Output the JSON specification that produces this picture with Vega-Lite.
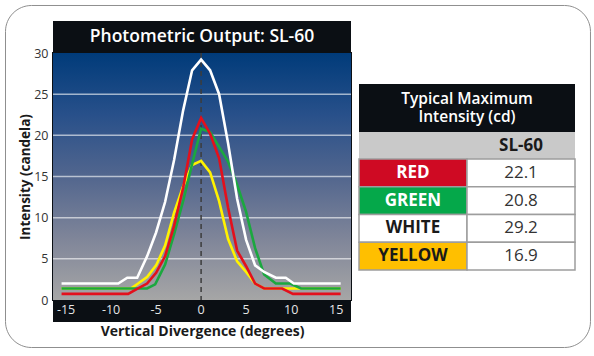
{
  "$schema": "https://vega.github.io/schema/vega-lite/v6.json",
  "background": "white",
  "padding": {"left": 4, "top": 3, "right": 4, "bottom": 4},
  "config": {"font": "Open Sans", "view": {"stroke": null}},
  "spacing": 306,
  "bounds": "flush",
  "hconcat": [
    {
      "spacing": 0,
      "bounds": "flush",
      "vconcat": [
        {
          "width": 298,
          "height": 32,
          "view": {"fill": "#0b0f14", "stroke": null},
          "data": {"values": [{"label": "Photometric Output: SL-60"}]},
          "mark": {"type": "text", "color": "#ffffff", "fontSize": 17.5, "fontWeight": 600, "baseline": "middle", "align": "center"},
          "encoding": {"text": {"field": "label", "type": "nominal"}}
        },
        {
          "width": 298,
          "height": 247,
          "view": {"stroke": "#0b0f14", "strokeWidth": 2},
          "layer": [
            {
              "data": {"values": [{}]},
              "mark": {"type": "rect", "filled": false, "stroke": "#8f8f8f", "strokeWidth": 1, "cornerRadius": 26},
              "encoding": {
                "x": {"datum": -21.726, "type": "quantitative", "scale": {"domain": [-16.45, 16.65]}, "axis": null},
                "x2": {"datum": 43.25},
                "y": {
                  "datum": 35.77, "type": "quantitative", "scale": {"domain": [0, 30]},
                  "axis": {
                    "title": "Intensity (candela)",
                    "values": [0, 5, 10, 15, 20, 25, 30],
                    "grid": false, "ticks": false, "tickSize": 0, "domain": false,
                    "labelPadding": 5, "labelFontSize": 12.5, "labelColor": "#333333", "labelFlush": false,
                    "titleFontSize": 13.5, "titleFontWeight": "bold", "titleColor": "#1a1a1a", "titlePadding": 1,
                    "minExtent": 0
                  }
                },
                "y2": {"datum": -5.77}
              }
            },
            {
              "data": {"values": [{}]},
              "mark": {
                "type": "rect",
                "color": {
                  "gradient": "linear",
                  "x1": 0, "y1": 0, "x2": 0, "y2": 1,
                  "stops": [
                    {"offset": 0, "color": "#003b7a"},
                    {"offset": 0.25, "color": "#28508a"},
                    {"offset": 0.5, "color": "#52668e"},
                    {"offset": 0.75, "color": "#7f8599"},
                    {"offset": 1, "color": "#a6a6a6"}
                  ]
                }
              },
              "encoding": {}
            },
            {
              "data": {"values": [{"v": 5}, {"v": 10}, {"v": 15}, {"v": 20}, {"v": 25}]},
              "mark": {"type": "rule", "color": "#ffffff", "opacity": 0.6, "strokeWidth": 1.5},
              "encoding": {
                "y": {
                  "field": "v", "type": "quantitative", "scale": {"domain": [0, 30]},
                  "axis": {
                    "title": "Intensity (candela)",
                    "values": [0, 5, 10, 15, 20, 25, 30],
                    "grid": false, "ticks": false, "tickSize": 0, "domain": false,
                    "labelPadding": 5, "labelFontSize": 12.5, "labelColor": "#333333", "labelFlush": false,
                    "titleFontSize": 13.5, "titleFontWeight": "bold", "titleColor": "#1a1a1a", "titlePadding": 1,
                    "minExtent": 0
                  }
                }
              }
            },
            {
              "data": {"values": [{"v": 0}]},
              "mark": {"type": "rule", "color": "#3c3c3c", "strokeDash": [5, 4], "strokeWidth": 1.5},
              "encoding": {
                "x": {"field": "v", "type": "quantitative", "scale": {"domain": [-16.45, 16.65]}, "axis": null}
              }
            },
            {
              "data": {
                "values": [
                  {"series": "White", "deg": -15.5, "cd": 2.0},
                  {"series": "White", "deg": -9.2, "cd": 2.0},
                  {"series": "White", "deg": -8.2, "cd": 2.7},
                  {"series": "White", "deg": -7.1, "cd": 2.7},
                  {"series": "White", "deg": -6, "cd": 5.3},
                  {"series": "White", "deg": -5, "cd": 8.2},
                  {"series": "White", "deg": -4, "cd": 11.9},
                  {"series": "White", "deg": -3, "cd": 17.0},
                  {"series": "White", "deg": -2, "cd": 23.0},
                  {"series": "White", "deg": -1, "cd": 27.9},
                  {"series": "White", "deg": 0, "cd": 29.2},
                  {"series": "White", "deg": 1, "cd": 27.9},
                  {"series": "White", "deg": 2, "cd": 25.0},
                  {"series": "White", "deg": 3, "cd": 19.0},
                  {"series": "White", "deg": 4, "cd": 12.3},
                  {"series": "White", "deg": 5, "cd": 7.3},
                  {"series": "White", "deg": 6, "cd": 4.2},
                  {"series": "White", "deg": 7, "cd": 3.4},
                  {"series": "White", "deg": 8.3, "cd": 2.7},
                  {"series": "White", "deg": 9.4, "cd": 2.7},
                  {"series": "White", "deg": 10.3, "cd": 2.0},
                  {"series": "White", "deg": 15.5, "cd": 2.0},
                  {"series": "Green", "deg": -15.5, "cd": 1.4},
                  {"series": "Green", "deg": -6.0, "cd": 1.4},
                  {"series": "Green", "deg": -5.1, "cd": 1.9},
                  {"series": "Green", "deg": -4, "cd": 4.3},
                  {"series": "Green", "deg": -3, "cd": 8.0},
                  {"series": "Green", "deg": -2, "cd": 12.0},
                  {"series": "Green", "deg": -1, "cd": 16.5},
                  {"series": "Green", "deg": 0, "cd": 20.8},
                  {"series": "Green", "deg": 1, "cd": 20.4},
                  {"series": "Green", "deg": 2, "cd": 18.6},
                  {"series": "Green", "deg": 3, "cd": 16.8},
                  {"series": "Green", "deg": 4, "cd": 14.0},
                  {"series": "Green", "deg": 5, "cd": 10.7},
                  {"series": "Green", "deg": 6, "cd": 6.3},
                  {"series": "Green", "deg": 7, "cd": 3.1},
                  {"series": "Green", "deg": 8.3, "cd": 2.0},
                  {"series": "Green", "deg": 9.9, "cd": 2.0},
                  {"series": "Green", "deg": 11.1, "cd": 1.4},
                  {"series": "Green", "deg": 15.5, "cd": 1.4},
                  {"series": "Red", "deg": -15.5, "cd": 0.75},
                  {"series": "Red", "deg": -8.1, "cd": 0.75},
                  {"series": "Red", "deg": -7, "cd": 1.4},
                  {"series": "Red", "deg": -6, "cd": 2.0},
                  {"series": "Red", "deg": -5, "cd": 3.3},
                  {"series": "Red", "deg": -4, "cd": 5.3},
                  {"series": "Red", "deg": -3, "cd": 9.0},
                  {"series": "Red", "deg": -2, "cd": 13.6},
                  {"series": "Red", "deg": -1, "cd": 19.5},
                  {"series": "Red", "deg": 0, "cd": 22.1},
                  {"series": "Red", "deg": 1, "cd": 20.2},
                  {"series": "Red", "deg": 2, "cd": 17.2},
                  {"series": "Red", "deg": 3, "cd": 11.2},
                  {"series": "Red", "deg": 4, "cd": 6.0},
                  {"series": "Red", "deg": 5, "cd": 4.1},
                  {"series": "Red", "deg": 6, "cd": 2.0},
                  {"series": "Red", "deg": 7, "cd": 1.4},
                  {"series": "Red", "deg": 9, "cd": 1.4},
                  {"series": "Red", "deg": 10.2, "cd": 0.75},
                  {"series": "Red", "deg": 15.5, "cd": 0.75},
                  {"series": "Yellow", "deg": -15.5, "cd": 1.4},
                  {"series": "Yellow", "deg": -7.8, "cd": 1.4},
                  {"series": "Yellow", "deg": -7, "cd": 2.0},
                  {"series": "Yellow", "deg": -6, "cd": 2.8},
                  {"series": "Yellow", "deg": -5, "cd": 4.2},
                  {"series": "Yellow", "deg": -4, "cd": 6.6},
                  {"series": "Yellow", "deg": -3, "cd": 10.6},
                  {"series": "Yellow", "deg": -2, "cd": 13.8},
                  {"series": "Yellow", "deg": -1, "cd": 16.4},
                  {"series": "Yellow", "deg": 0, "cd": 16.9},
                  {"series": "Yellow", "deg": 1, "cd": 15.5},
                  {"series": "Yellow", "deg": 2, "cd": 12.0},
                  {"series": "Yellow", "deg": 3, "cd": 7.4},
                  {"series": "Yellow", "deg": 4, "cd": 4.7},
                  {"series": "Yellow", "deg": 5, "cd": 3.4},
                  {"series": "Yellow", "deg": 6, "cd": 2.0},
                  {"series": "Yellow", "deg": 7, "cd": 1.4},
                  {"series": "Yellow", "deg": 15.5, "cd": 1.4}
                ]
              },
              "encoding": {
                "x": {"field": "deg", "type": "quantitative", "scale": {"domain": [-16.45, 16.65]}, "axis": null},
                "y": {
                  "field": "cd", "type": "quantitative", "scale": {"domain": [0, 30]},
                  "axis": {
                    "title": "Intensity (candela)",
                    "values": [0, 5, 10, 15, 20, 25, 30],
                    "grid": false, "ticks": false, "tickSize": 0, "domain": false,
                    "labelPadding": 5, "labelFontSize": 12.5, "labelColor": "#333333", "labelFlush": false,
                    "titleFontSize": 13.5, "titleFontWeight": "bold", "titleColor": "#1a1a1a", "titlePadding": 1,
                    "minExtent": 0
                  }
                },
                "color": {
                  "field": "series", "type": "nominal",
                  "scale": {"domain": ["Yellow", "Green", "Red", "White"], "range": ["#fff200", "#1ba83f", "#e3101c", "#ffffff"]},
                  "legend": null
                }
              },
              "layer": [
                {"transform": [{"filter": "datum.series === 'Yellow'"}], "mark": {"type": "line", "strokeWidth": 2.6}},
                {"transform": [{"filter": "datum.series === 'Green'"}], "mark": {"type": "line", "strokeWidth": 2.6}},
                {"transform": [{"filter": "datum.series === 'Red'"}], "mark": {"type": "line", "strokeWidth": 2.6}},
                {"transform": [{"filter": "datum.series === 'White'"}], "mark": {"type": "line", "strokeWidth": 2.6}}
              ]
            }
          ]
        },
        {
          "width": 298,
          "height": 22,
          "view": {"fill": "#0b0f14", "stroke": null},
          "data": {"values": [{"t": -15}, {"t": -10}, {"t": -5}, {"t": 0}, {"t": 5}, {"t": 10}, {"t": 15}]},
          "mark": {"type": "text", "color": "#e6e6e6", "fontSize": 12.5, "baseline": "middle", "dy": -1},
          "encoding": {
            "x": {
              "field": "t", "type": "quantitative", "scale": {"domain": [-16.45, 16.65]},
              "axis": {
                "title": "Vertical Divergence (degrees)", "labels": false, "ticks": false, "domain": false, "grid": false,
                "titleFontSize": 14, "titleFontWeight": "bold", "titleColor": "#1a1a1a", "titlePadding": 2
              }
            },
            "text": {"field": "t", "type": "nominal"}
          }
        }
      ]
    },
    {
      "spacing": 0,
      "bounds": "flush",
      "vconcat": [
        {
          "width": 216,
          "height": 62.7,
          "data": {"values": []},
          "mark": "rect",
          "encoding": {}
        },
        {
          "width": 216,
          "height": 48,
          "view": {"fill": "#0b0f14", "stroke": null},
          "data": {"values": [{"label": "Typical Maximum\nIntensity (cd)"}]},
          "mark": {"type": "text", "color": "#ffffff", "fontSize": 15.5, "fontWeight": 600, "lineBreak": "\n", "lineHeight": 17.5, "baseline": "middle", "align": "center", "dy": -8.75},
          "encoding": {"text": {"field": "label", "type": "nominal"}}
        },
        {
          "width": 216,
          "height": 27,
          "view": {"fill": "#c9c9c9", "stroke": null},
          "data": {"values": [{"col": "value", "label": "SL-60"}]},
          "mark": {"type": "text", "color": "#1a1a1a", "fontSize": 17, "fontWeight": "bold", "baseline": "middle"},
          "encoding": {
            "x": {"field": "col", "type": "nominal", "scale": {"type": "band", "domain": ["label", "value"], "paddingInner": 0, "paddingOuter": 0}, "axis": null},
            "text": {"field": "label", "type": "nominal"}
          }
        },
        {
          "width": 216,
          "height": 111,
          "view": {"stroke": null},
          "data": {
            "values": [
              {"name": "RED", "cd": 22.1},
              {"name": "GREEN", "cd": 20.8},
              {"name": "WHITE", "cd": 29.2},
              {"name": "YELLOW", "cd": 16.9}
            ]
          },
          "encoding": {
            "y": {"field": "name", "type": "nominal", "sort": null, "scale": {"type": "band", "paddingInner": 0, "paddingOuter": 0}, "axis": null}
          },
          "layer": [
            {
              "mark": {"type": "rect", "stroke": "#9d9d9d", "strokeWidth": 1.5},
              "encoding": {
                "x": {"datum": "label", "type": "nominal", "scale": {"type": "band", "domain": ["label", "value"], "paddingInner": 0, "paddingOuter": 0}, "axis": null},
                "color": {
                  "field": "name", "type": "nominal",
                  "scale": {"domain": ["RED", "GREEN", "WHITE", "YELLOW"], "range": ["#cf0a23", "#05a84a", "#ffffff", "#ffbf00"]},
                  "legend": null
                }
              }
            },
            {
              "mark": {"type": "rect", "fill": "#ffffff", "stroke": "#9d9d9d", "strokeWidth": 1.5},
              "encoding": {
                "x": {"datum": "value", "type": "nominal", "scale": {"type": "band", "domain": ["label", "value"], "paddingInner": 0, "paddingOuter": 0}, "axis": null}
              }
            },
            {
              "mark": {"type": "text", "fontSize": 17, "fontWeight": "bold", "baseline": "middle"},
              "encoding": {
                "x": {"datum": "label", "type": "nominal", "scale": {"type": "band", "domain": ["label", "value"], "paddingInner": 0, "paddingOuter": 0}, "axis": null},
                "text": {"field": "name", "type": "nominal"},
                "color": {
                  "field": "name", "type": "nominal",
                  "scale": {"domain": ["RED", "GREEN", "WHITE", "YELLOW"], "range": ["#ffffff", "#ffffff", "#1a1a1a", "#1a1a1a"]},
                  "legend": null
                }
              }
            },
            {
              "mark": {"type": "text", "fontSize": 17, "color": "#333333", "baseline": "middle"},
              "encoding": {
                "x": {"datum": "value", "type": "nominal", "scale": {"type": "band", "domain": ["label", "value"], "paddingInner": 0, "paddingOuter": 0}, "axis": null},
                "text": {"field": "cd", "type": "quantitative", "format": ".1f"}
              }
            }
          ],
          "resolve": {"scale": {"color": "independent"}}
        }
      ]
    }
  ]
}
